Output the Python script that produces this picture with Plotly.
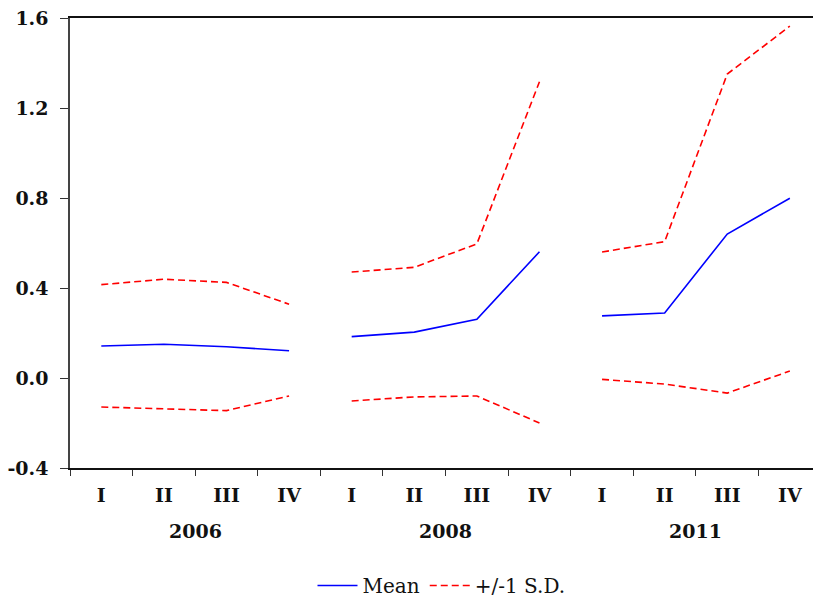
import plotly.graph_objects as go

years = ["2006", "2008", "2011"]
quarters = ["I", "II", "III", "IV"]

mean_vals = [0.142, 0.150, 0.139, 0.121,
             0.184, 0.204, 0.261, 0.561,
             0.276, 0.289, 0.640, 0.799]
upper_vals = [0.415, 0.439, 0.425, 0.328,
              0.471, 0.492, 0.596, 1.317,
              0.560, 0.606, 1.351, 1.564]
lower_vals = [-0.129, -0.138, -0.145, -0.080,
              -0.102, -0.084, -0.080, -0.200,
              -0.006, -0.027, -0.067, 0.031]

y_tickvals = [-0.4, 0.0, 0.4, 0.8, 1.2, 1.6]
y_ticktext = ["-0.4", "0.0", "0.4", "0.8", "1.2", "1.6"]

FONT = "DejaVu Serif"
TICKFONT = dict(family=FONT, size=19, color="#111", weight="bold")
n_q = len(quarters)
idx = list(range(len(years) * n_q))
DASH = "7px,4px"

fig = go.Figure()
for g, yr in enumerate(years):
    xs = idx[g * n_q:(g + 1) * n_q]
    fig.add_trace(go.Scatter(
        x=xs, y=mean_vals[g * n_q:(g + 1) * n_q], mode="lines",
        line=dict(color="#0000FF", width=1.6),
        name="Mean", legendgroup="mean", showlegend=(g == 0)))
    fig.add_trace(go.Scatter(
        x=xs, y=upper_vals[g * n_q:(g + 1) * n_q], mode="lines",
        line=dict(color="#FF0000", width=1.6, dash=DASH),
        name="+/-1 S.D.", legendgroup="sd", showlegend=(g == 0)))
    fig.add_trace(go.Scatter(
        x=xs, y=lower_vals[g * n_q:(g + 1) * n_q], mode="lines",
        line=dict(color="#FF0000", width=1.6, dash=DASH),
        name="+/-1 S.D.", legendgroup="sd", showlegend=False))

xrange = [-0.5, 11.37]
boundaries = [i - 0.5 for i in range(len(idx) + 1)]
group_bounds = [g * n_q - 0.5 for g in range(len(years) + 1)]

fig.update_layout(
    width=813, height=605,
    margin=dict(l=70, r=0, t=18, b=137),
    plot_bgcolor="white", paper_bgcolor="white",
    font=dict(family=FONT, size=19, color="#111"),
    xaxis=dict(
        range=xrange, tickvals=idx, ticktext=quarters * len(years),
        ticks="", showgrid=False, zeroline=False, tickfont=TICKFONT,
        showline=True, linecolor="#111", linewidth=1.5, mirror=True,
        ticklabelstandoff=9, automargin=False,
        minor=dict(tickmode="array", tickvals=boundaries, ticks="outside",
                   ticklen=6, tickcolor="#333", tickwidth=1, showgrid=False),
    ),
    xaxis2=dict(
        overlaying="x", range=xrange, tickvals=group_bounds, ticks="outside",
        ticklen=10, tickcolor="#333", tickwidth=1.2, showticklabels=False,
        showgrid=False, zeroline=False, showline=False, side="bottom",
        automargin=False,
    ),
    yaxis=dict(
        range=[-0.4, 1.6], tickvals=y_tickvals, ticktext=y_ticktext,
        ticks="outside", ticklen=8, tickcolor="#333", showgrid=False,
        zeroline=False, showline=True, linecolor="#444", linewidth=1.5,
        ticklabelstandoff=8, tickfont=TICKFONT, automargin=False,
    ),
    legend=dict(orientation="h", x=0.5, xanchor="center", y=(468 - 586) / 450,
                yanchor="middle", font=dict(family=FONT, size=20, color="#111"),
                itemwidth=40, traceorder="normal"),
    showlegend=True,
)

for g, yr in enumerate(years):
    fig.add_annotation(x=g * n_q + 1.5, xref="x", y=(468 - 531) / 450,
                       yref="paper", text=yr, showarrow=False,
                       yanchor="middle", font=TICKFONT)

fig.write_html("out.html", config={"displayModeBar": False},
               post_script="document.body.style.margin='0';")
